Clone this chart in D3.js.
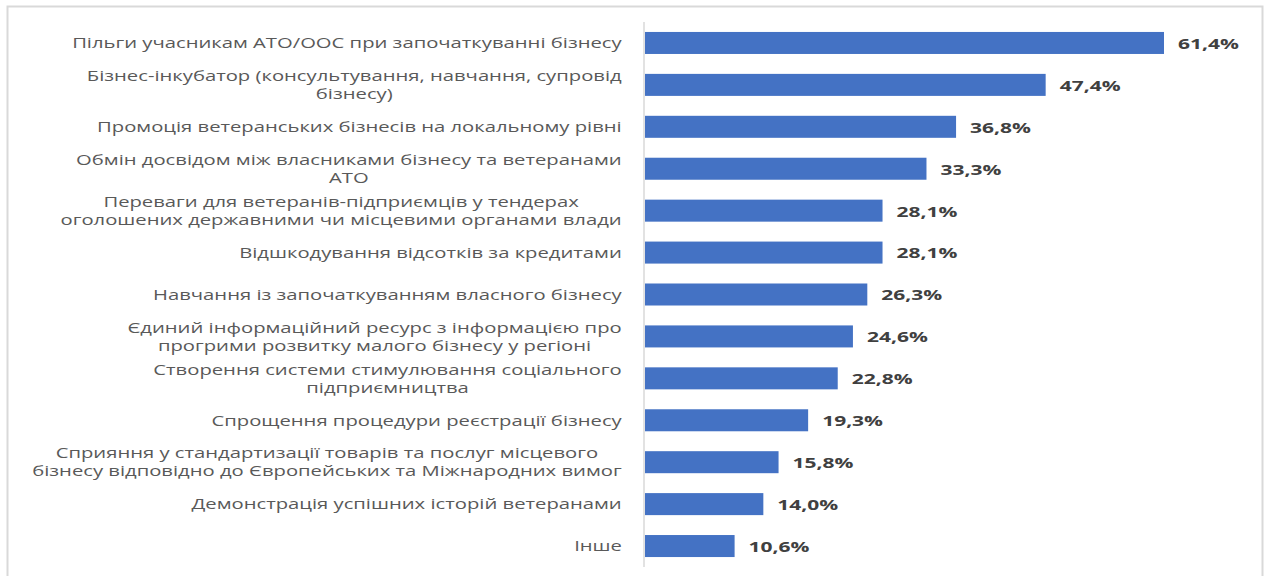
<!DOCTYPE html>
<html>
<head>
<meta charset="utf-8">
<script src="https://cdn.jsdelivr.net/npm/d3@7"></script>
<style>
  body { margin: 0; background: #fff; }
  text { font-family: "Open Sans", sans-serif; }
</style>
</head>
<body>
<div id="chart-area"></div>
<script>
// categories, each one as its wrapped lines
const categories = [
  ["Пільги учасникам АТО/ООС при започаткуванні бізнесу"],
  ["Бізнес-інкубатор (консультування, навчання, супровід", "бізнесу)"],
  ["Промоція ветеранських бізнесів на локальному рівні"],
  ["Обмін досвідом між власниками бізнесу та ветеранами", "АТО"],
  ["Переваги для ветеранів-підприємців у тендерах", "оголошених державними чи місцевими органами влади"],
  ["Відшкодування відсотків за кредитами"],
  ["Навчання із започаткуванням власного бізнесу"],
  ["Єдиний інформаційний ресурс з інформацією про", "прогрими розвитку малого бізнесу у регіоні"],
  ["Створення системи стимулювання соціального", "підприємництва"],
  ["Спрощення процедури реєстрації бізнесу"],
  ["Сприяння у стандартизації товарів та послуг місцевого", "бізнесу відповідно до Європейських та Міжнародних вимог"],
  ["Демонстрація успішних історій ветеранами"],
  ["Інше"]
]
const values = [61.4, 47.4, 36.8, 33.3, 28.1, 28.1, 26.3, 24.6, 22.8, 19.3, 15.8, 14.0, 10.6]

const width = 1269, height = 576
const stretch = 1.35     // the picture is wider than normal text
const valStretch = 1.5

let svg = d3.select("#chart-area").append("svg")
  .attr("width", width)
  .attr("height", height)

// frame around the chart
svg.append("rect")
  .attr("x", 7.5).attr("y", 6.5)
  .attr("width", 1255).attr("height", 620)
  .attr("fill", "none")
  .attr("stroke", "#d9d9d9")
  .attr("stroke-width", 2)

let idx = d3.range(values.length)

let x = d3.scaleLinear().domain([0, 61.4]).range([645, 1164])
let y = d3.scaleBand().domain(idx).range([22, 567]).paddingInner(0.475).paddingOuter(0.2375)

svg.selectAll("rect.bar")
  .data(idx)
  .enter()
  .append("rect")
    .attr("class", "bar")
    .attr("x", x(0))
    .attr("y", i => y(i))
    .attr("width", i => x(values[i]) - x(0))
    .attr("height", y.bandwidth())
    .attr("fill", "#4472c4")

// axis line
svg.append("line")
  .attr("x1", 644).attr("x2", 644)
  .attr("y1", 22).attr("y2", 567)
  .attr("stroke", "#d9d9d9")
  .attr("stroke-width", 1.5)

// category labels: block right-aligned at 622, lines centred inside it
idx.forEach(i => {
  let lines = categories[i]
  let cy = y(i) + y.bandwidth() / 2
  let g = svg.append("g")
  let texts = lines.map((line, k) => g.append("text")
    .attr("text-anchor", "middle")
    .attr("dy", "0.35em")
    .attr("font-size", 15)
    .attr("fill", "#595959")
    .text(line))
  let maxW = d3.max(texts, t => t.node().getComputedTextLength()) * stretch
  let cx = 622 - maxW / 2
  texts.forEach((t, k) => {
    let ly = cy + (k - (lines.length - 1) / 2) * 18
    t.attr("transform", `translate(${cx},${ly}) scale(${stretch},1)`)
  })
})

// value labels
svg.selectAll("text.val")
  .data(idx)
  .enter()
  .append("text")
    .attr("class", "val")
    .attr("transform", i => `translate(${x(values[i]) + 14},${y(i) + y.bandwidth() / 2 + 1}) scale(${valStretch},1)`)
    .attr("dy", "0.35em")
    .attr("font-size", 14)
    .attr("font-weight", "bold")
    .attr("fill", "#404040")
    .text(i => values[i].toFixed(1).replace(".", ",") + "%")
</script>
</body>
</html>
